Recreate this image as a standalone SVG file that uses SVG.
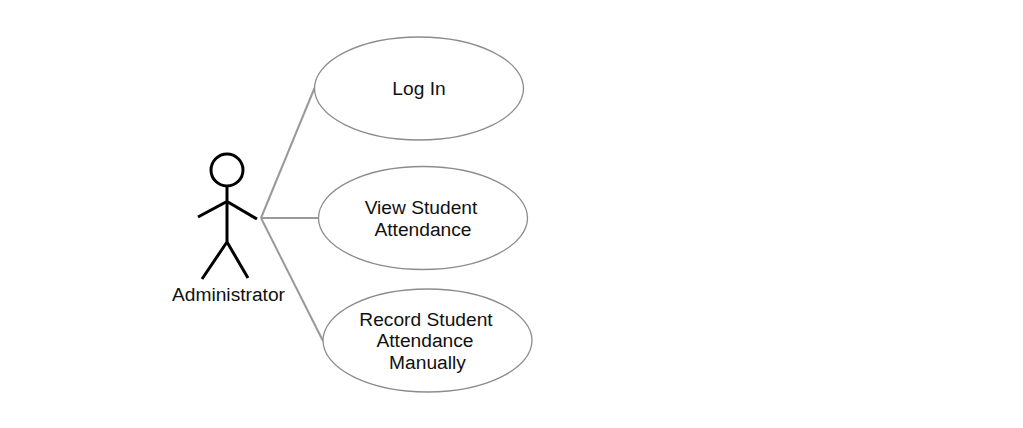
<svg xmlns="http://www.w3.org/2000/svg" width="1023" height="428" viewBox="0 0 1023 428">
<style>
.u{fill:#fff;stroke:#8c8c8c;stroke-width:1.3}
.c{stroke:#999;stroke-width:2;fill:none}
.a{stroke:#000;stroke-width:3;fill:none}
text{font-family:"Liberation Sans",Arial,sans-serif;font-size:19.2px;fill:#111;text-anchor:middle}
</style>
<rect width="1023" height="428" fill="#fff"/>
<g id="connectors">
<line class="c" x1="261" y1="218" x2="314.500" y2="88"/>
<line class="c" x1="261" y1="218" x2="318.500" y2="218"/>
<line class="c" x1="261" y1="218" x2="323" y2="341"/>
</g>
<g id="actor">
<circle class="a" cx="227" cy="170" r="16"/>
<path class="a" d="M227 186V242M198 217L227 201.500L257 219M227 242L202 279M227 242L248 278"/>
<text x="228.500" y="301">Administrator</text>
</g>
<g id="login"><ellipse class="u" cx="419" cy="88.500" rx="104.500" ry="51.500"/><text x="419" y="95">Log In</text></g>
<g id="view"><ellipse class="u" cx="423" cy="218" rx="104.500" ry="51.500"/><text x="421" y="214">View Student</text><text x="423" y="235.500">Attendance</text></g>
<g id="record"><ellipse class="u" cx="427.500" cy="340.500" rx="104.500" ry="51.500"/><text x="426" y="326">Record Student</text><text x="425" y="347">Attendance</text><text x="427.500" y="369">Manually</text></g>
</svg>
